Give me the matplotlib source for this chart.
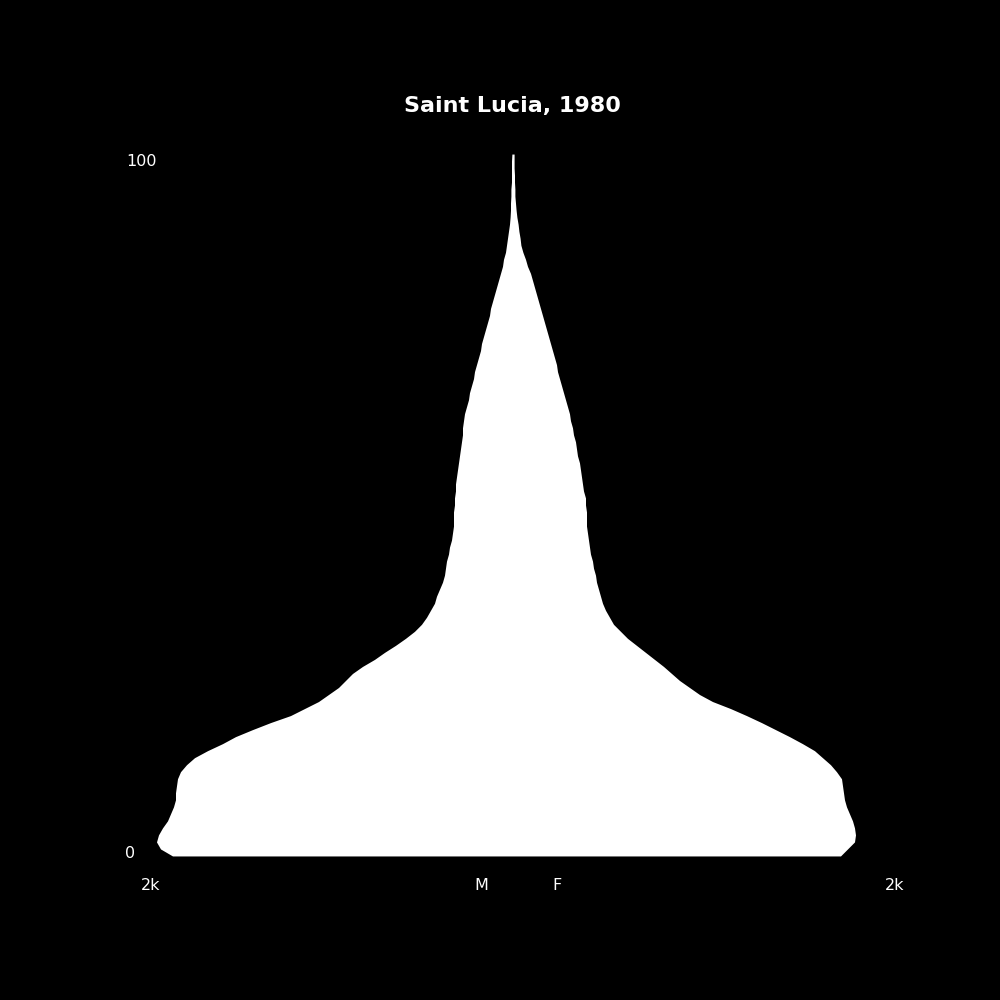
import numpy as np
import matplotlib
matplotlib.use('Agg')
import matplotlib.pyplot as plt

# ---------------------- data ---------------------------------
country = 'Saint Lucia'
year = 1980

ages = list(range(0, 101))

# people per single-year age
male = [1700, 1760, 1780, 1770, 1750, 1725, 1710, 1695, 1685, 1685,
        1680, 1675, 1660, 1630, 1590, 1525, 1450, 1385, 1300, 1210,
        1110, 1040, 970, 920, 870, 835, 800, 750, 690, 640,
        585, 535, 490, 455, 430, 410, 390, 380, 365, 350,
        340, 335, 330, 320, 315, 305, 300, 295, 295, 295,
        290, 290, 285, 285, 280, 275, 270, 265, 260, 255,
        250, 250, 245, 240, 230, 220, 215, 205, 195, 190,
        180, 170, 160, 155, 145, 135, 125, 115, 110, 100,
        90, 80, 70, 60, 50, 45, 35, 30, 25, 20,
        15, 12, 10, 10, 8, 8, 5, 5, 5, 5,
        3]

female = [1640, 1675, 1710, 1715, 1710, 1700, 1685, 1670, 1660, 1655,
          1650, 1645, 1620, 1590, 1550, 1510, 1450, 1385, 1315, 1245,
          1170, 1090, 1000, 935, 885, 835, 795, 755, 710, 665,
          620, 575, 540, 505, 485, 465, 450, 440, 430, 420,
          415, 405, 400, 390, 385, 380, 375, 370, 370, 370,
          365, 365, 355, 350, 345, 340, 335, 325, 320, 315,
          305, 300, 290, 285, 275, 265, 255, 245, 235, 225,
          220, 210, 200, 190, 180, 170, 160, 150, 140, 130,
          120, 110, 100, 90, 75, 65, 52, 42, 38, 32,
          28, 22, 18, 15, 12, 12, 10, 10, 8, 8,
          8]

# ---------------------- plotting -----------------------------
fig = plt.figure(figsize=(10, 10), dpi=100, facecolor='black')
ax = fig.add_subplot(111)
ax.set_facecolor('black')

ax.fill_betweenx(ages, -np.array(male), np.array(female),
                 color='white', lw=0)

ax.set_xlim(-1937.5, 1937.5)
ax.set_ylim(-4.85, 104.85)
ax.axis('off')

ax.set_title(f'{country}, {year}', color='white', fontsize=16,
             fontweight='bold', pad=5.5)

# labels in figure coords
txt = dict(color='white', fontsize=11.5, va='center')
fig.text(0.126, 1 - 0.161, '100', ha='left', **txt)
fig.text(0.125, 1 - 0.853, '0', ha='left', **txt)
fig.text(0.1505, 1 - 0.885, '2k', ha='center', **txt)
fig.text(0.895, 1 - 0.885, '2k', ha='center', **txt)
fig.text(0.481, 1 - 0.885, 'M', ha='center', **txt)
fig.text(0.5565, 1 - 0.885, 'F', ha='center', **txt)

fig.savefig('out.png', facecolor='black')
